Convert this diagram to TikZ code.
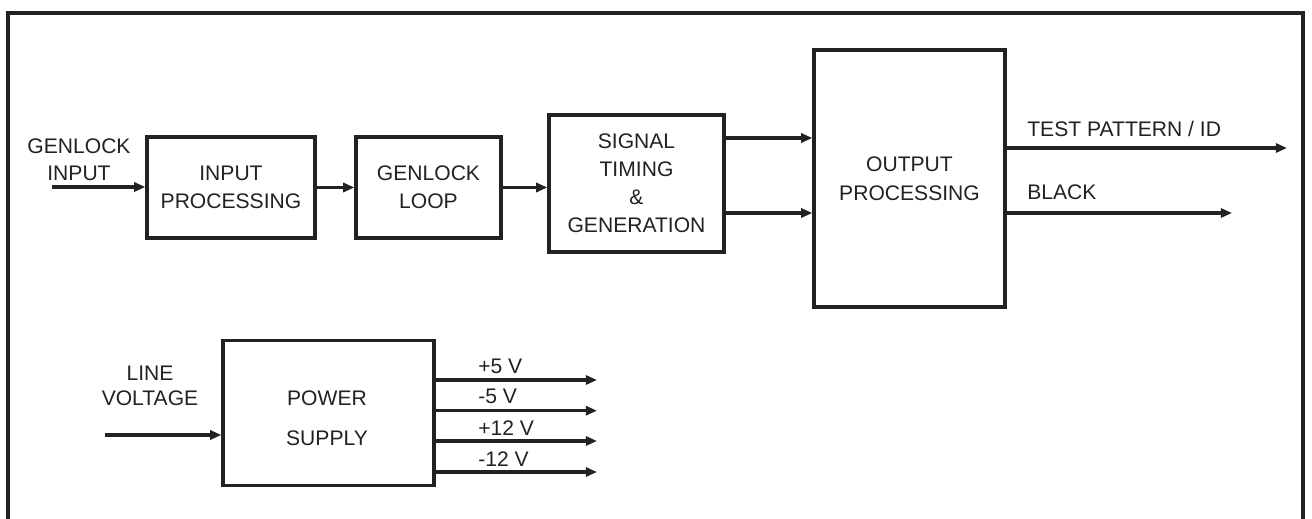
\documentclass[tikz,border=0pt]{standalone}
\usepackage{fontspec}
\setmainfont{Liberation Sans}
\usetikzlibrary{arrows.meta,calc}
\definecolor{ink}{HTML}{222222}
\begin{document}
\begin{tikzpicture}[x=0.02cm,y=-0.02cm,
  blk/.style={draw=ink, line width=1.9pt, rectangle, inner sep=0pt, align=center, text=ink, font=\fontsize{12}{15.9}\selectfont},
  lbl/.style={text=ink, inner sep=0pt, align=center, font=\fontsize{12}{15.9}\selectfont},
  arr/.style={draw=ink, line width=1.9pt, -{Triangle[length=6.4pt,width=5.2pt]}},
]
\useasboundingbox (0,0) rectangle (1312,519);
\fill[white] (0,0) rectangle (1312,519);
% outer frame (bottom edge lies below the page)
\draw[ink, line width=2.1pt] (8,540) -- (8,12.7) -- (1303,12.7) -- (1303,540);

% blocks
\node[blk, minimum width=3.36cm, minimum height=2.02cm] (ip) at (231,187.5) {INPUT\\PROCESSING};
\node[blk, minimum width=2.9cm, minimum height=2.02cm] (gl) at (428.5,187.5) {GENLOCK\\LOOP};
\node[blk, minimum width=3.5cm, minimum height=2.74cm] (st) at (636.5,183.5) {SIGNAL\\TIMING\\\&\\GENERATION};
\node[blk, minimum width=3.82cm, minimum height=5.14cm, font=\fontsize{12}{16.5}\selectfont] (op) at (909.5,178.5) {OUTPUT\\PROCESSING};
\node[blk, minimum width=4.22cm, minimum height=2.9cm] (ps) at (328.5,413.2) {};

% labels
\node[lbl, font=\fontsize{12}{15.8}\selectfont] (gint) at (79,159.7) {GENLOCK\\INPUT};
\node[lbl, anchor=base west] (tpt) at (1027,137) {TEST PATTERN / ID};
\node[lbl, anchor=base west] (blkt) at (1027,200) {BLACK};
\node[lbl, font=\fontsize{12}{14.2}\selectfont] (lvt) at (150,386) {LINE\\VOLTAGE};
\node[lbl, font=\fontsize{12}{22.8}\selectfont] (pst) at (327,418.5) {POWER\\SUPPLY};
\node[lbl, anchor=base west] (v1t) at (478,374) {+5 V};
\node[lbl, anchor=base west] (v2t) at (478,404) {-5 V};
\node[lbl, anchor=base west] (v3t) at (478,436) {+12 V};
\node[lbl, anchor=base west] (v4t) at (478,467) {-12 V};

% connector end points
\coordinate (gin) at (52,187);
\coordinate (a1) at (0,138);
\coordinate (a2) at (0,213);
\coordinate (tpend) at (1287,148);
\coordinate (blkend) at (1232,213);
\coordinate (lvin) at (105,435);
\coordinate (v1) at (597,380);
\coordinate (v2) at (597,410.7);
\coordinate (v3) at (597,441);
\coordinate (v4) at (597,472);

% connectors
\draw[arr] (gin) -- (gin -| ip.west);
\draw[arr] (ip) -- (gl);
\draw[arr] (gl.east) -- (gl.east -| st.west);
\draw[arr] (st.east |- a1) -- (op.west |- a1);
\draw[arr] (st.east |- a2) -- (op.west |- a2);
\draw[arr] (op.east |- tpend) -- (tpend);
\draw[arr] (op.east |- blkend) -- (blkend);
\draw[arr] (lvin) -- (lvin -| ps.west);
\draw[arr] (ps.east |- v1) -- (v1);
\draw[arr] (ps.east |- v2) -- (v2);
\draw[arr] (ps.east |- v3) -- (v3);
\draw[arr] (ps.east |- v4) -- (v4);
\end{tikzpicture}
\end{document}
